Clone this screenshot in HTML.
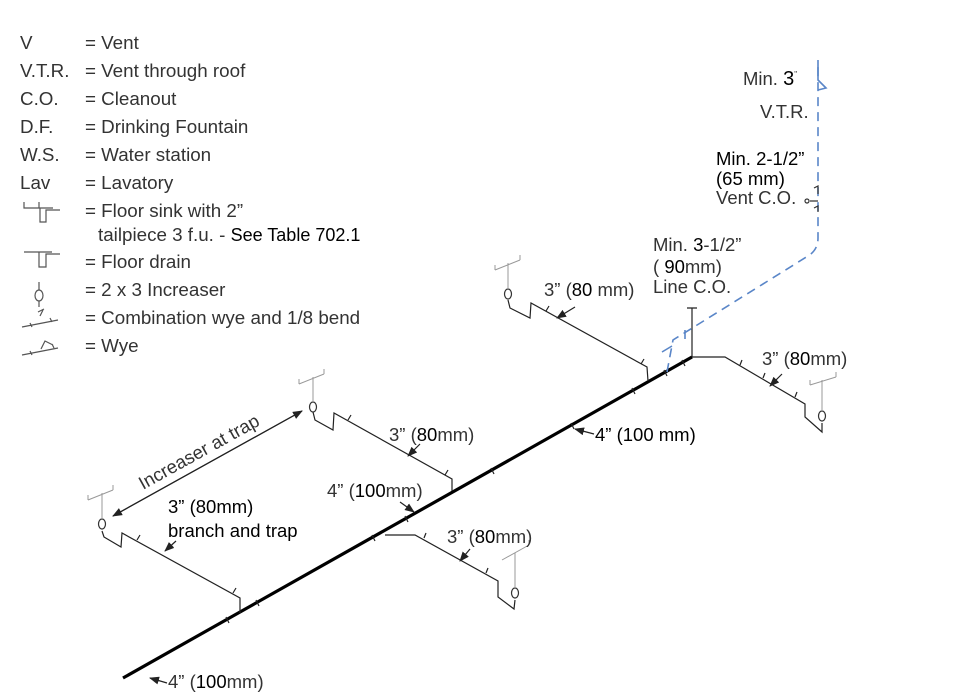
<!DOCTYPE html>
<html><head><meta charset="utf-8"><style>
html,body{margin:0;padding:0;background:#fff;}
body{width:957px;height:699px;overflow:hidden;position:relative;font-family:"Liberation Sans",Arial,sans-serif;}
svg{position:absolute;left:0;top:0;}
text{font-family:"Liberation Sans",Arial,sans-serif;fill:#333;}
</style></head><body>
<svg width="957" height="699" viewBox="0 0 957 699" xmlns="http://www.w3.org/2000/svg">
<defs>
<marker id="ah" markerWidth="10" markerHeight="8" refX="9" refY="4" orient="auto" markerUnits="userSpaceOnUse">
<path d="M0,0 L10,4 L0,8 Z" fill="#222"/></marker>
</defs>
<!-- Legend -->
<g font-size="18.8">
<text x="20" y="49">V</text><text x="85" y="49">= Vent</text>
<text x="20" y="77">V.T.R.</text><text x="85" y="77">= Vent through roof</text>
<text x="20" y="105">C.O.</text><text x="85" y="105">= Cleanout</text>
<text x="20" y="133">D.F.</text><text x="85" y="133">= Drinking Fountain</text>
<text x="20" y="161">W.S.</text><text x="85" y="161">= Water station</text>
<text x="20" y="189">Lav</text><text x="85" y="189">= Lavatory</text>
<text x="85" y="217">= Floor sink with 2”</text>
<text x="98" y="241">tailpiece 3 f.u. - <tspan style="fill:#000" font-size="18">See Table 702.1</tspan></text>
<text x="85" y="268">= Floor drain</text>
<text x="85" y="296">= 2 x 3 Increaser</text>
<text x="85" y="324">= Combination wye and 1/8 bend</text>
<text x="85" y="352">= Wye</text>
</g>
<g stroke="#555" stroke-width="1.2" fill="none">
<path d="M24,202 V208 H53 M39,202 V208 M40,208 V222 H46 V210 H60"/>
<path d="M24,252 H52 M39,252 V267 H46 V254 H60"/>
<path d="M39,282 V290 M39,301 V307"/><ellipse cx="39" cy="295.5" rx="4" ry="5.5"/>
<path d="M22,327 L58,320 M30,323 l2,4 M50,318 l2,4 M40,316 l3,-6 M38,312 l6,-3"/>
<path d="M22,355 L58,348 M30,351 l2,4 M41,349 l4,-8 l8,4 M52,344 l2,4"/>
</g>
<!-- Main line -->
<line x1="123" y1="678" x2="692" y2="357" stroke="#000" stroke-width="3.2"/>
<g stroke="#222" stroke-width="1.2" fill="none">
<path d="M226,617 l3,6 M256,600 l3,6 M372,535 l3,6 M405,516 l3,6 M491,468 l3,6 M571,423 l3,6 M632,388 l3,6 M664,370 l3,6 M682,360 l3,6"/>
<path d="M102,531 L104,537 L121,547 L122,533 L240,598 L240,613"/>
<path d="M137,540 l3,-5 M233,593 l3,-5"/>
<path d="M313,412 L315,420 L333,430 L334,413 L452,479 L452,491"/>
<path d="M348,420 l3,-5 M445,475 l3,-5"/>
<path d="M508,300 L510,308 L530,318 L531,303 L647,367 L648,381"/>
<path d="M546,311 l3,-5 M641,364 l3,-5"/>
<path d="M385,535 L415,535 L498,581 L498,597 L514,609 L515,600"/>
<path d="M424,538 l2,-5 M486,573 l2,-5"/>
<path d="M692,357 L725,357 L805,404 L805,417 L822,432 L822,423"/>
<path d="M740,365 l2,-5 M763,378 l2,-5 M795,397 l2,-5"/>
<path d="M692,357 V308 M687,308 H697"/>
</g>
<g stroke="#333" stroke-width="1.2" fill="#fff">
<ellipse cx="102" cy="524" rx="3.5" ry="5"/>
<ellipse cx="313" cy="407" rx="3.5" ry="5"/>
<ellipse cx="508" cy="294" rx="3.5" ry="5"/>
<ellipse cx="515" cy="593" rx="3.5" ry="5"/>
<ellipse cx="822" cy="416" rx="3.5" ry="5"/>
</g>
<g stroke="#999" stroke-width="1" fill="none">
<path d="M102,519 V493 M88,500 L113,490 M88,500 v-5 M113,490 v-5"/>
<path d="M313,402 V377 M299,384 L324,374 M299,384 v-5 M324,374 v-5"/>
<path d="M508,289 V263 M495,270 L520,260 M495,270 v-5 M520,260 v-5"/>
<path d="M515,588 V553 M502,560 L529,545 M529,545 v-5"/>
<path d="M822,411 V380 M810,385 L836,377 M810,385 v-5 M836,377 v-5"/>
</g>
<!-- Blue vent -->
<g stroke="#5a86c8" stroke-width="1.6" fill="none">
<path d="M667,372 L673,340 L808,256 Q818,250 818,238 L818,66" stroke-dasharray="9,6"/>
<path d="M818,60 L818,80 L826,88 L818,90"/>
<path d="M662,352 l10,-6 M685,330 v9"/>
</g>
<g stroke="#333" stroke-width="1.2" fill="none">
<path d="M814,188 l4,-2 v8 M814,208 l4,-2 v6 M810,201 h8"/>
<circle cx="807" cy="201" r="2"/>
</g>
<g stroke="#222" stroke-width="1.2" fill="none">
<line x1="113" y1="516" x2="302" y2="411" marker-end="url(#ah)"/>
<line x1="302" y1="411" x2="113" y2="516" marker-end="url(#ah)"/>
<line x1="575" y1="307" x2="557" y2="318" marker-end="url(#ah)"/>
<line x1="782" y1="374" x2="770" y2="386" marker-end="url(#ah)"/>
<line x1="594" y1="434" x2="575" y2="429" marker-end="url(#ah)"/>
<line x1="420" y1="444" x2="408" y2="456" marker-end="url(#ah)"/>
<line x1="400" y1="502" x2="414" y2="512" marker-end="url(#ah)"/>
<line x1="470" y1="549" x2="460" y2="561" marker-end="url(#ah)"/>
<line x1="176" y1="541" x2="165" y2="551" marker-end="url(#ah)"/>
<line x1="167" y1="683" x2="150" y2="678" marker-end="url(#ah)"/>
</g>
<g font-size="18.5">
<text x="743" y="85">Min.  <tspan style="fill:#000" font-size="20">3</tspan><tspan font-size="8" dy="-8">"</tspan></text>
<text x="760" y="118">V.T.R.</text>
<text x="716" y="165" style="fill:#000">Min. 2-1/2”</text>
<text x="716" y="185" style="fill:#000">(65 mm)</text>
<text x="716" y="204">Vent C.O.</text>
<text x="653" y="251">Min. <tspan style="fill:#000">3</tspan>-1/2”</text>
<text x="653" y="273">( <tspan style="fill:#000">90</tspan>mm)</text>
<text x="653" y="293">Line C.O.</text>
<text x="544" y="296">3” (<tspan style="fill:#000">80</tspan> mm)</text>
<text x="762" y="365">3” (<tspan style="fill:#000">80</tspan>mm)</text>
<text x="595" y="441" style="fill:#000">4” (100 mm)</text>
<text x="389" y="441">3” (<tspan style="fill:#000">80</tspan>mm)</text>
<text x="327" y="497">4” (<tspan style="fill:#000">100</tspan>mm)</text>
<text x="447" y="543">3” (<tspan style="fill:#000">80</tspan>mm)</text>
<text x="168" y="513" style="fill:#000">3” (80mm)</text>
<text x="168" y="537" style="fill:#000">branch and trap</text>
<text x="168" y="688">4” (<tspan style="fill:#000">100</tspan>mm)</text>
<text x="0" y="0" transform="translate(143,490) rotate(-29)">Increaser at trap</text>
</g>
</svg>
</body></html>
